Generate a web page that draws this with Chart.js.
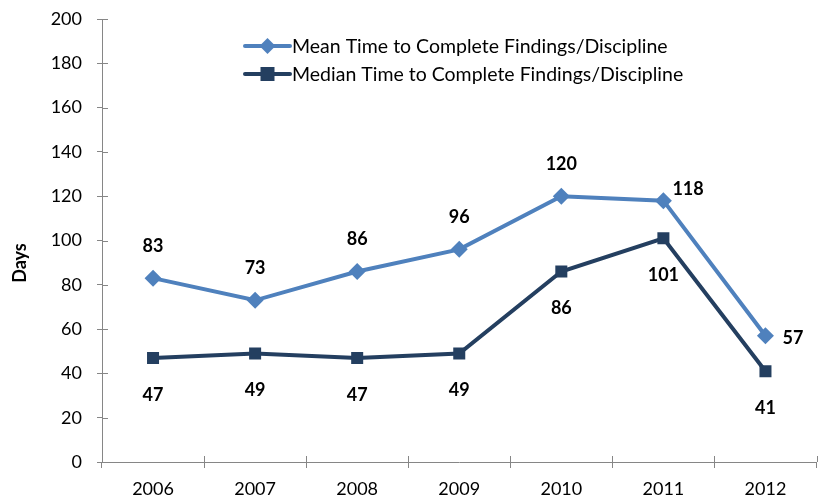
<!DOCTYPE html>
<html>
<head>
<meta charset="utf-8">
<script src="https://cdn.jsdelivr.net/npm/chart.js@4/dist/chart.umd.min.js"></script>
<style>
  html, body { margin: 0; padding: 0; background: #fff; }
  .chart-wrapper { width: 825px; height: 501px; position: relative; }
</style>
</head>
<body>
<div class="chart-wrapper">
    <canvas id="myChart"></canvas>
</div>
<script>
// 데이터
const years = ['2006', '2007', '2008', '2009', '2010', '2011', '2012'];
const meanDays = [83, 73, 86, 96, 120, 118, 57];
const medianDays = [47, 49, 47, 49, 86, 101, 41];
const meanLabel = 'Mean Time to Complete Findings/Discipline';
const medianLabel = 'Median Time to Complete Findings/Discipline';
const yTitle = 'Days';

const FONT = "Lato, 'Open Sans', sans-serif";
const axisGrey = '#868686';
const meanColor = '#4F81BD';
const medianColor = '#243F60';

// 값 라벨 위치 (위/아래/오른쪽)
const meanLabelPos = ['top', 'top', 'top', 'top', 'top', 'topright', 'right'];
const medianLabelPos = ['bottom', 'bottom', 'bottom', 'bottom', 'bottom', 'bottom', 'bottom'];

// 데이터 라벨 그리기
const valueLabels = {
    id: 'valueLabels',
    afterDatasetsDraw(chart) {
        const ctx = chart.ctx;
        ctx.save();
        ctx.font = "bold 18px " + FONT;
        ctx.fillStyle = '#000';
        ctx.textBaseline = 'middle';
        chart.data.datasets.forEach((ds, di) => {
            const meta = chart.getDatasetMeta(di);
            const posList = di === 0 ? meanLabelPos : medianLabelPos;
            meta.data.forEach((pt, i) => {
                const pos = posList[i];
                let x = pt.x, y = pt.y;
                ctx.textAlign = 'center';
                if (pos === 'top') y -= 32;
                else if (pos === 'bottom') y += 37;
                else if (pos === 'topright') { x += 9; y -= 11; ctx.textAlign = 'left'; }
                else if (pos === 'right') { x += 17; y += 2; ctx.textAlign = 'left'; }
                ctx.fillText(ds.data[i], x, y);
            });
        });
        ctx.restore();
    }
};

// 범례 (차트 안쪽) + y축 제목
const innerLegend = {
    id: 'innerLegend',
    afterDraw(chart) {
        const ctx = chart.ctx;
        ctx.save();
        ctx.font = "19.5px " + FONT;
        ctx.textBaseline = 'middle';
        const x0 = 245, x1 = 290;
        const rows = [46, 74];
        chart.data.datasets.forEach((ds, di) => {
            const y = rows[di];
            const cx = (x0 + x1) / 2;
            ctx.strokeStyle = ds.borderColor;
            ctx.lineWidth = 4;
            ctx.lineCap = 'round';
            ctx.beginPath();
            ctx.moveTo(x0, y);
            ctx.lineTo(x1, y);
            ctx.stroke();
            ctx.fillStyle = ds.borderColor;
            ctx.beginPath();
            if (ds.pointStyle === 'rect') {
                ctx.rect(cx - 7, y - 7, 14, 14);
            } else {
                const r = 8;
                ctx.moveTo(cx, y - r);
                ctx.lineTo(cx + r, y);
                ctx.lineTo(cx, y + r);
                ctx.lineTo(cx - r, y);
                ctx.closePath();
            }
            ctx.fill();
            ctx.fillStyle = '#000';
            ctx.textAlign = 'left';
            ctx.fillText(ds.label, x1 + 2, y + 1);
        });

        // y축 제목
        ctx.translate(20, 263);
        ctx.rotate(-Math.PI / 2);
        ctx.font = "bold 18px " + FONT;
        ctx.textAlign = 'center';
        ctx.fillText(yTitle, 0, 0);
        ctx.restore();
    }
};

// 축 눈금이 축선을 가로지르도록 안쪽 부분 추가
const innerTicks = {
    id: 'innerTicks',
    afterDraw(chart) {
        const ctx = chart.ctx;
        const xs = chart.scales.x, ys = chart.scales.y;
        ctx.save();
        ctx.strokeStyle = axisGrey;
        ctx.lineWidth = 1;
        ctx.beginPath();
        ys.ticks.forEach((t, i) => {
            const y = Math.round(ys.getPixelForTick(i)) + 0.5;
            ctx.moveTo(ys.right, y);
            ctx.lineTo(ys.right + 6, y);
        });
        for (let i = 1; i <= years.length; i++) {
            const x = Math.round(xs.left + i * (xs.width / years.length)) + 0.5;
            ctx.moveTo(x, xs.top);
            ctx.lineTo(x, xs.top - 6);
        }
        ctx.stroke();
        ctx.restore();
    }
};

const ctx = document.getElementById('myChart').getContext('2d');

new Chart(ctx, {
    type: 'line',
    data: {
        labels: years,
        datasets: [{
            label: meanLabel,
            data: meanDays,
            borderColor: meanColor,
            backgroundColor: meanColor,
            borderWidth: 4,
            pointStyle: 'rectRot',
            pointRadius: 8.5,
            pointHoverRadius: 8.5,
            pointBorderWidth: 0,
            tension: 0
        }, {
            label: medianLabel,
            data: medianDays,
            borderColor: medianColor,
            backgroundColor: medianColor,
            borderWidth: 4,
            pointStyle: 'rect',
            pointRadius: 8.5,
            pointHoverRadius: 8.5,
            pointBorderWidth: 0,
            tension: 0
        }]
    },
    options: {
        responsive: true,
        maintainAspectRatio: false,
        animation: false,
        layout: { padding: { top: 19, right: 0, left: 0, bottom: 0 } },
        scales: {
            x: {
                offset: true,
                grid: {
                    offset: true,
                    drawOnChartArea: false,
                    drawTicks: true,
                    tickLength: 6,
                    color: axisGrey
                },
                border: { display: true, color: axisGrey, width: 1 },
                ticks: {
                    color: '#000',
                    font: { family: FONT, size: 18 },
                    padding: 10,
                    maxRotation: 0
                },
                afterFit(scale) {
                    scale.height = 39;
                    scale.paddingLeft = 0;
                    scale.paddingRight = 0;
                }
            },
            y: {
                min: 0,
                max: 200,
                grid: {
                    drawOnChartArea: false,
                    drawTicks: true,
                    tickLength: 5,
                    color: axisGrey
                },
                border: { display: true, color: axisGrey, width: 1 },
                ticks: {
                    stepSize: 20,
                    color: '#000',
                    font: { family: FONT, size: 18 },
                    padding: 15
                },
                afterFit(scale) {
                    scale.width = 102;
                    scale.paddingTop = 0;
                    scale.paddingBottom = 0;
                }
            }
        },
        plugins: {
            legend: { display: false },
            tooltip: { enabled: false }
        }
    },
    plugins: [valueLabels, innerLegend, innerTicks]
});
</script>
</body>
</html>
